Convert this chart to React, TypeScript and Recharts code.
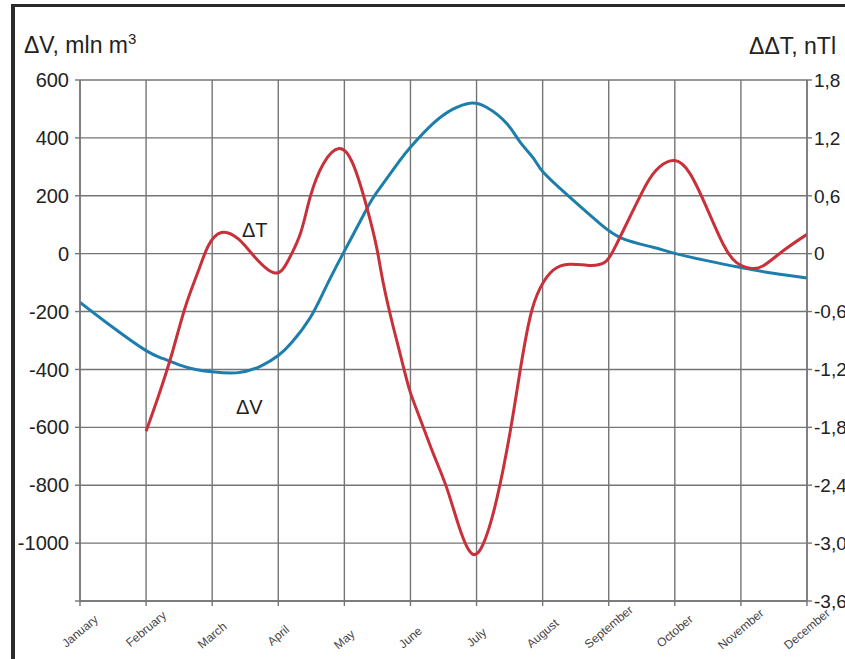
import React from "react";
import {
  LineChart,
  Line,
  XAxis,
  YAxis,
  CartesianGrid,
} from "recharts";

const months = [
  "January",
  "February",
  "March",
  "April",
  "May",
  "June",
  "July",
  "August",
  "September",
  "October",
  "November",
  "December",
];
const monthTicks = [0, 1, 2, 3, 4, 5, 6, 7, 8, 9, 10, 11];

// ΔV, mln m3 (month position -> value)
const dvMonth = [
  0, 0.5, 1, 1.25, 1.5, 1.75, 2, 2.4, 2.75, 3, 3.2, 3.48, 3.7, 3.98, 4.34,
  4.49, 4.84, 5, 5.34, 5.65, 5.9, 6.15, 6.46, 6.66, 6.86, 7.01, 7.41, 7.87,
  8.22, 8.67, 9, 9.48, 9.98, 10.49, 11,
];
const dvValue = [
  -168, -255, -335, -362, -384, -400, -408, -411, -387, -352, -308, -222,
  -125, 0, 155, 212, 322, 368, 449, 500, 520, 506, 449, 385, 330, 281, 195,
  103, 51, 22, 1, -24, -47, -68, -84,
];

// ΔT, nTl
const dtMonth = [
  1, 1.18, 1.39, 1.59, 1.79, 1.94, 2.14, 2.4, 2.65, 2.95, 3.15, 3.34, 3.48,
  3.68, 3.92, 4.13, 4.34, 4.49, 4.59, 4.74, 4.87, 4.99, 5.14, 5.35, 5.55,
  5.75, 5.93, 6.1, 6.3, 6.51, 6.66, 6.81, 6.96, 7.16, 7.41, 7.67, 7.94, 8.12,
  8.32, 8.57, 8.77, 9, 9.23, 9.48, 9.73, 9.93, 10.14, 10.34, 10.64, 11,
];
const dtValue = [
  -1.84, -1.49, -1.04, -0.56, -0.18, 0.08, 0.22, 0.15, -0.04, -0.2, -0.07,
  0.22, 0.58, 0.93, 1.09, 0.93, 0.48, 0.06, -0.31, -0.76, -1.11, -1.42, -1.7,
  -2.08, -2.43, -2.86, -3.11, -3.01, -2.56, -1.84, -1.21, -0.66, -0.36,
  -0.17, -0.11, -0.12, -0.09, 0.1, 0.38, 0.72, 0.9, 0.965, 0.83, 0.48, 0.1,
  -0.09, -0.15, -0.125, 0.03, 0.2,
];

const leftTicks = [-1200, -1000, -800, -600, -400, -200, 0, 200, 400, 600];
const rightTicks = [-3.6, -3, -2.4, -1.8, -1.2, -0.6, 0, 0.6, 1.2, 1.8];

const dvData = dvMonth.map((m, i) => ({ m, dv: dvValue[i] }));
const dtData = dtMonth.map((m, i) => ({ m, dt: dtValue[i] }));

const FONT = "'Liberation Sans', Arial, sans-serif";
const GRID = "#757575";

const MonthTick = (props: any) => {
  const { x, y, payload } = props;
  const label = months[payload.value];
  const len = label.length * 6.6;
  const cy = y + 38 - len * 0.32;
  return (
    <text
      x={x}
      y={cy}
      transform={`rotate(-40, ${x}, ${cy})`}
      textAnchor="middle"
      dominantBaseline="central"
      fontSize={12}
      fontFamily={FONT}
      fill="#444"
    >
      {label}
    </text>
  );
};

const fmtRight = (v: number) =>
  v === 0 ? "0" : v.toFixed(1).replace(".", ",");

const App = () => {
  return (
    <div
      style={{
        position: "absolute",
        left: 0,
        top: 0,
        width: 845,
        height: 659,
        background: "#fff",
        fontFamily: FONT,
        overflow: "hidden",
      }}
    >
      <div
        style={{
          position: "absolute",
          left: 11,
          top: 4,
          width: 840,
          height: 660,
          borderLeft: "4px solid #2a2a2a",
          borderTop: "3px solid #2a2a2a",
        }}
      />
      <LineChart
        width={845}
        height={659}
        margin={{ top: 80, right: 0, left: 0, bottom: 0 }}
      >
        <CartesianGrid yAxisId="left" stroke={GRID} strokeWidth={1.4} />
        <XAxis
          type="number"
          dataKey="m"
          domain={[0, 11]}
          ticks={monthTicks}
          tick={<MonthTick />}
          height={58}
          stroke={GRID}
          strokeWidth={1.4}
          tickSize={5}
          interval={0}
          allowDataOverflow
        />
        <YAxis
          yAxisId="left"
          domain={[-1200, 600]}
          ticks={leftTicks}
          width={80}
          tickSize={5}
          tickMargin={6}
          interval={0}
          stroke={GRID}
          strokeWidth={1.4}
          tickFormatter={(v: number) => (v === -1200 ? "" : String(v))}
          tick={{ fontSize: 20, fill: "#222", fontFamily: FONT }}
        />
        <YAxis
          yAxisId="right"
          orientation="right"
          domain={[-3.6, 1.8]}
          ticks={rightTicks}
          width={38}
          tickSize={5}
          tickMargin={2}
          interval={0}
          stroke={GRID}
          strokeWidth={1.4}
          tickFormatter={fmtRight}
          tick={{ fontSize: 19, fill: "#222", fontFamily: FONT, textAnchor: "start" }}
        />
        <Line
          yAxisId="left"
          data={dvData}
          dataKey="dv"
          type="natural"
          stroke="#1d7eab"
          strokeWidth={3}
          dot={false}
          isAnimationActive={false}
        />
        <Line
          yAxisId="right"
          data={dtData}
          dataKey="dt"
          type="natural"
          stroke="#c8313a"
          strokeWidth={3}
          dot={false}
          isAnimationActive={false}
        />
      </LineChart>
      <div
        style={{
          position: "absolute",
          left: 24,
          top: 30,
          fontSize: 23,
          color: "#222",
          whiteSpace: "nowrap",
        }}
      >
        ΔV, mln m<sup style={{ fontSize: 15 }}>3</sup>
      </div>
      <div
        style={{
          position: "absolute",
          right: 9,
          top: 33,
          fontSize: 23,
          color: "#222",
          whiteSpace: "nowrap",
        }}
      >
        ΔΔT, nTl
      </div>
      <div
        style={{
          position: "absolute",
          left: 242,
          top: 219,
          fontSize: 20,
          color: "#222",
        }}
      >
        ΔT
      </div>
      <div
        style={{
          position: "absolute",
          left: 236,
          top: 396,
          fontSize: 20,
          color: "#222",
        }}
      >
        ΔV
      </div>
    </div>
  );
};

export default App;
